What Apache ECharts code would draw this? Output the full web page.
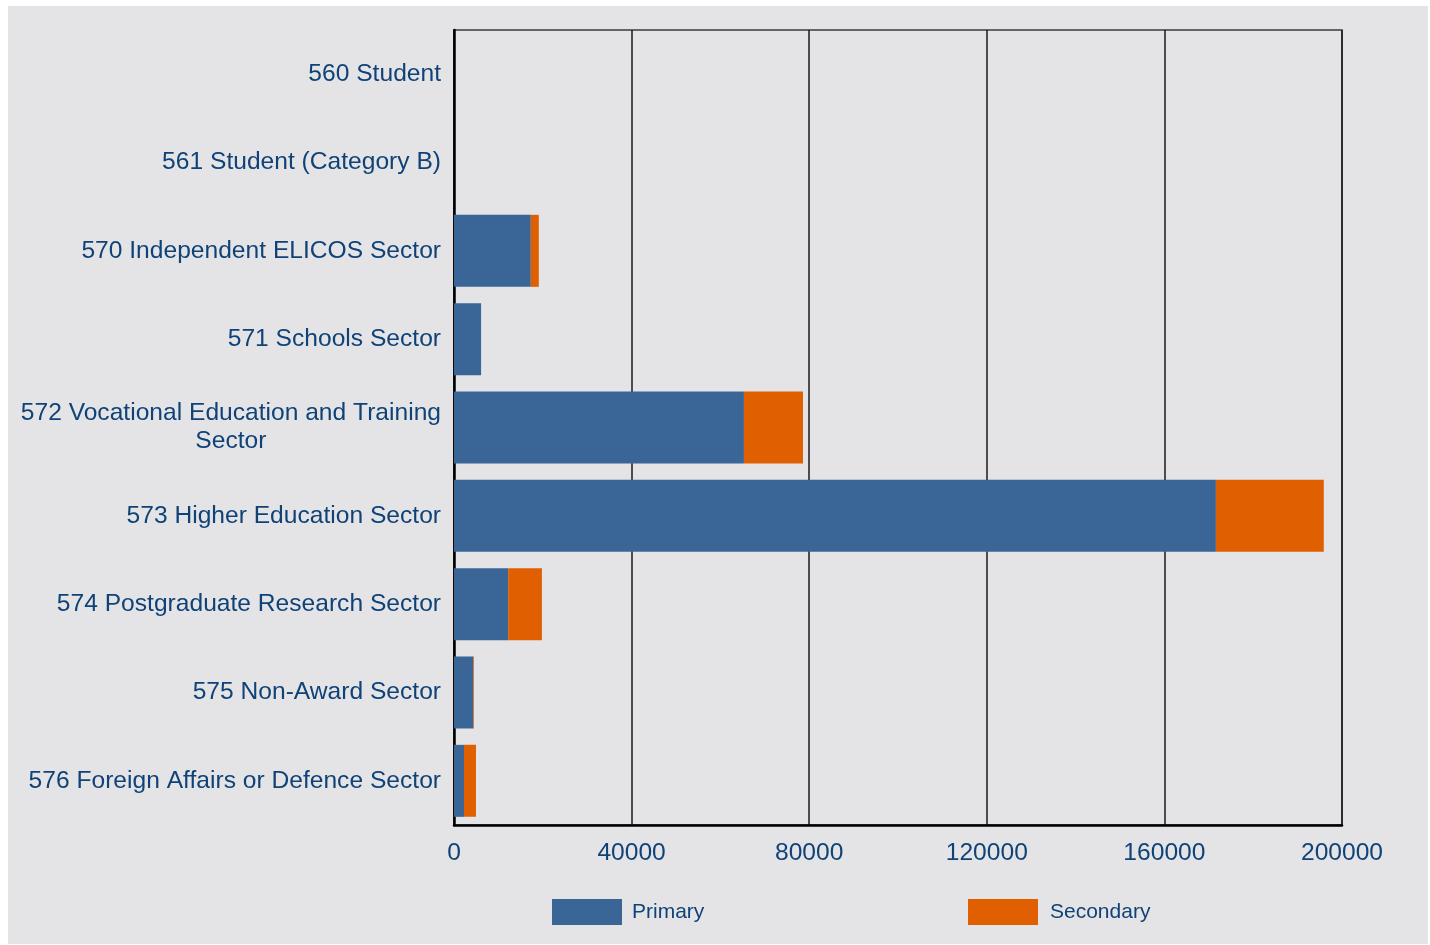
<!DOCTYPE html>
<html>
<head>
<meta charset="utf-8">
<script src="https://cdn.jsdelivr.net/npm/echarts@6/dist/echarts.min.js"></script>
<style>
html,body{margin:0;padding:0;background:#ffffff;}
#chart{position:absolute;left:8px;top:6px;width:1420px;height:938px;}
</style>
</head>
<body>
<div id="chart"></div>
<script>
const categories = [
  '560 Student',
  '561 Student (Category B)',
  '570 Independent ELICOS Sector',
  '571 Schools Sector',
  '572 Vocational Education and Training Sector',
  '573 Higher Education Sector',
  '574 Postgraduate Research Sector',
  '575 Non-Award Sector',
  '576 Foreign Affairs or Defence Sector'
];
const primary = [0, 0, 17300, 6100, 65300, 171600, 12200, 4350, 2250];
const secondary = [0, 0, 1800, 0, 13300, 24300, 7600, 150, 2700];
const xTicks = [0, 40000, 80000, 120000, 160000, 200000];

const FONT = 'Liberation Sans, Arial, sans-serif';
const TXT = '#0f4277';
const FS = 24.6;
const chart = echarts.init(document.getElementById('chart'), null, {renderer: 'canvas'});
chart.setOption({
  backgroundColor: '#e4e4e6',
  animation: false,
  textStyle: {fontFamily: FONT},
  grid: {left: 446, top: 24, width: 888, height: 795, show: true, borderColor: '#3a3a3a', borderWidth: 1.5, backgroundColor: 'transparent'},
  legend: [
    {data: ['Primary'], left: 539, top: 888, itemWidth: 70, itemHeight: 26, icon: 'rect',
     textStyle: {color: TXT, fontSize: 21, fontFamily: FONT, padding: [0, 0, 0, 5]}},
    {data: ['Secondary'], left: 955, top: 888, itemWidth: 70, itemHeight: 26, icon: 'rect',
     textStyle: {color: TXT, fontSize: 21, fontFamily: FONT, padding: [0, 0, 0, 7]}}
  ],
  xAxis: {
    type: 'value', min: xTicks[0], max: xTicks[xTicks.length - 1], interval: xTicks[1] - xTicks[0],
    axisLine: {show: true, lineStyle: {color: '#000', width: 2.5}},
    axisTick: {show: false},
    splitLine: {show: true, lineStyle: {color: '#1a1a1a', width: 1.5}},
    axisLabel: {color: TXT, fontSize: FS, fontFamily: FONT, margin: 16, formatter: function (v) { return String(v); }}
  },
  yAxis: {
    type: 'category', data: categories, inverse: true,
    axisLine: {show: true, lineStyle: {color: '#000', width: 2.5}},
    axisTick: {show: false},
    axisLabel: {
      margin: 13, fontSize: FS, color: TXT, fontFamily: FONT, align: 'right',
      formatter: function (v) {
        if (v.indexOf('Vocational') >= 0) {
          return '{c|572 Vocational Education and Training}\n{c|Sector}';
        }
        return '{c|' + v + '}';
      },
      rich: {c: {align: 'center', color: TXT, fontSize: FS, fontFamily: FONT, lineHeight: 28}}
    }
  },
  series: [
    {name: 'Primary', type: 'bar', stack: 's', data: primary, barWidth: 72, itemStyle: {color: '#3a6697'}},
    {name: 'Secondary', type: 'bar', stack: 's', data: secondary, barWidth: 72, itemStyle: {color: '#e05f00'}}
  ]
});
</script>
</body>
</html>
